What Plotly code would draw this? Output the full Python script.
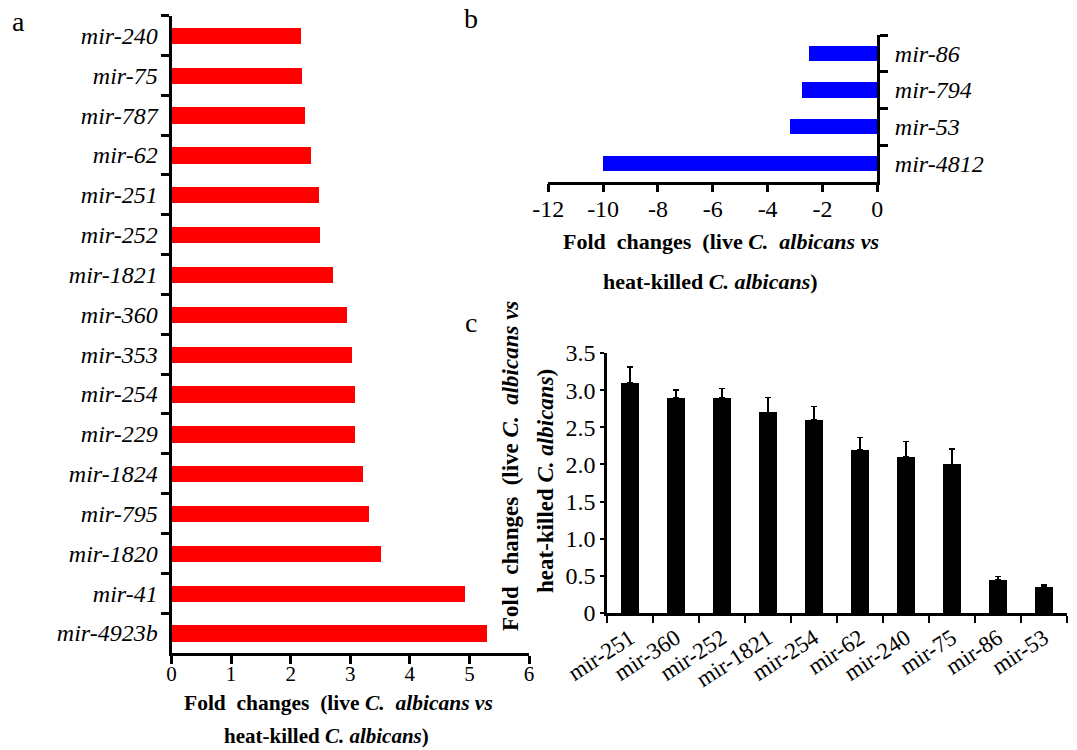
import plotly.graph_objects as go

# ---------------- data ----------------
a_labels = ["mir-240", "mir-75", "mir-787", "mir-62", "mir-251", "mir-252", "mir-1821",
            "mir-360", "mir-353", "mir-254", "mir-229", "mir-1824", "mir-795", "mir-1820",
            "mir-41", "mir-4923b"]
a_values = [2.17, 2.18, 2.24, 2.33, 2.46, 2.48, 2.71, 2.94, 3.02, 3.07, 3.07, 3.21, 3.30,
            3.50, 4.92, 5.28]
a_xticks = [0, 1, 2, 3, 4, 5, 6]

b_labels = ["mir-86", "mir-794", "mir-53", "mir-4812"]
b_values = [-2.48, -2.72, -3.16, -10.0]
b_xticks = [-12, -10, -8, -6, -4, -2, 0]
b_xticktext = ["-12", "-10", "-8", "-6", "-4", "-2", "0"]

c_labels = ["mir-251", "mir-360", "mir-252", "mir-1821", "mir-254", "mir-62", "mir-240",
            "mir-75", "mir-86", "mir-53"]
c_values = [3.10, 2.90, 2.90, 2.70, 2.60, 2.20, 2.10, 2.00, 0.45, 0.35]
c_err = [0.21, 0.10, 0.12, 0.20, 0.18, 0.16, 0.21, 0.21, 0.04, 0.03]
c_yticks = [0, 0.5, 1.0, 1.5, 2.0, 2.5, 3.0, 3.5]
c_yticktext = ["0", "0.5", "1.0", "1.5", "2.0", "2.5", "3.0", "3.5"]

# ---------------- figure ----------------
W, H = 1077, 750
SERIF = "Liberation Serif, Times New Roman, serif"

def px(x):
    return x / W

def py(y):
    return 1 - y / H

fig = go.Figure()

fig.add_trace(go.Bar(x=a_values, y=a_labels, orientation="h", marker_color="#ff0000",
                     marker_line_width=0, width=0.41, xaxis="x", yaxis="y",
                     showlegend=False))
fig.add_trace(go.Bar(x=b_values, y=b_labels, orientation="h", marker_color="#0000ff",
                     marker_line_width=0, width=0.41, xaxis="x2", yaxis="y2",
                     showlegend=False))
fig.add_trace(go.Bar(x=c_labels, y=c_values, marker_color="#000000",
                     marker_line_width=0, width=0.39, xaxis="x3", yaxis="y3",
                     error_y=dict(type="data", symmetric=False, array=c_err,
                                  arrayminus=[0] * len(c_err), color="#000000",
                                  thickness=1.5, width=3),
                     showlegend=False))

axis_common = dict(showgrid=False, zeroline=False, showline=True, linecolor="black",
                   ticks="outside", tickcolor="black", fixedrange=True, automargin=False)

fig.update_layout(
    width=W, height=H,
    margin=dict(l=0, r=0, t=0, b=0, pad=0, autoexpand=False),
    paper_bgcolor="white", plot_bgcolor="rgba(0,0,0,0)",
    font=dict(family=SERIF, color="black", size=20),
    bargap=0,
    # panel a
    xaxis=dict(domain=[px(171.5), px(529)], range=[0, 6], tickvals=a_xticks,
               anchor="y", linewidth=3, ticklen=8, tickwidth=3, ticklabelstandoff=-8,
               tickfont=dict(size=21, family=SERIF), **axis_common),
    yaxis=dict(domain=[py(653), py(15.5)], autorange="reversed", type="category",
               categoryorder="array", categoryarray=a_labels, anchor="x",
               tickson="boundaries", linewidth=3, ticklen=8, tickwidth=3,
               ticklabelstandoff=6,
               tickfont=dict(size=24, family=SERIF, style="italic"), **axis_common),
    # panel b
    xaxis2=dict(domain=[px(548.3), px(877.3)], range=[-12, 0], tickvals=b_xticks,
                ticktext=b_xticktext, anchor="y2", linewidth=2.5, ticklen=8,
                tickwidth=2.5, ticklabelstandoff=-4,
                tickfont=dict(size=24, family=SERIF), **axis_common),
    yaxis2=dict(domain=[py(181.7), py(35)], autorange="reversed", type="category",
                categoryorder="array", categoryarray=b_labels, anchor="x2", side="right",
                tickson="boundaries", linewidth=2.5, ticklen=8, tickwidth=2.5,
                ticklabelstandoff=10,
                tickfont=dict(size=24, family=SERIF, style="italic"), **axis_common),
    # panel c
    xaxis3=dict(domain=[px(607), px(1067)], type="category", categoryorder="array",
                categoryarray=c_labels, anchor="y3", tickson="boundaries",
                linewidth=2.5, ticklen=7, tickwidth=2, tickangle=-33,
                tickfont=dict(size=23, family=SERIF), **axis_common),
    yaxis3=dict(domain=[py(613), py(353)], range=[0, 3.5], tickvals=c_yticks,
                ticktext=c_yticktext, anchor="x3", linewidth=2.5, ticklen=4, tickwidth=2,
                tickfont=dict(size=24, family=SERIF), **axis_common),
)

NB = "\u00a0"
line1 = f"<b>Fold{NB} changes{NB} (live <i>C.{NB} albicans vs</i></b>"
line2 = "<b>heat-killed <i>C. albicans</i>)</b>"

ann = []
def add_text(text, x, y, size, angle=0, xanchor="center", yanchor="middle"):
    ann.append(dict(text=text, x=px(x), y=py(y), xref="paper", yref="paper",
                    showarrow=False, font=dict(size=size, family=SERIF, color="black"),
                    textangle=angle, xanchor=xanchor, yanchor=yanchor))

# panel letters
add_text("a", 18, 22, 28)
add_text("b", 471, 18, 28)
add_text("c", 471, 322, 28)
# panel a x title
add_text(line1, 338, 703, 21.5)
add_text(line2, 326, 736, 21)
# panel b x title
add_text(line1, 721, 241, 22)
add_text(line2, 710, 281, 22)
# panel c y title
add_text(line1, 511, 466, 23, angle=-90)
add_text(line2, 545, 481, 23, angle=-90)

fig.update_layout(annotations=ann)

fig.write_html("out.html")
